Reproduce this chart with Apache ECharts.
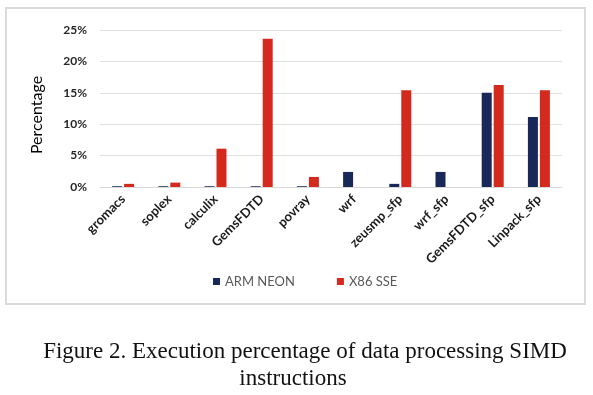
<!DOCTYPE html>
<html><head><meta charset="utf-8">
<script src="https://cdn.jsdelivr.net/npm/echarts@6/dist/echarts.min.js"></script>
<style>html,body{margin:0;padding:0;background:#fff}#c{width:593px;height:395px}</style>
</head><body><div id="c"></div>
<script>
const categories = ['gromacs','soplex','calculix','GemsFDTD','povray','wrf','zeusmp_sfp','wrf_sfp','GemsFDTD_sfp','Linpack_sfp'];
const armNeon = [0.12,0.12,0.12,0.12,0.12,2.4,0.5,2.4,15.0,11.15];
const x86Sse = [0.5,0.7,6.1,23.6,1.6,0,15.4,0,16.25,15.4];
const seriesNames = ['ARM NEON','X86 SSE'];
const yTicks = {min:0, max:25, interval:5};
const yTitle = 'Percentage';
const captionLines = ['Figure 2. Execution percentage of data processing SIMD','instructions'];

const chart = echarts.init(document.getElementById('c'), null, {renderer:'canvas'});
chart.setOption({
  animation:false,
  backgroundColor:'#fff',
  grid:{left:100,right:31,top:30,bottom:208,containLabel:false},
  legend:{
    data:seriesNames, top:270, left:208, itemWidth:7, itemHeight:7, itemGap:42,
    icon:'rect', textStyle:{color:'#595959',fontSize:13,fontFamily:'Lato'}
  },
  xAxis:{
    type:'category', data:categories,
    axisLine:{lineStyle:{color:'#d9d9d9'}}, axisTick:{show:false},
    axisLabel:{rotate:45, interval:0, color:'#1a1a1a', fontWeight:'bold', fontSize:13, fontFamily:'Lato', margin:10}
  },
  yAxis:{
    type:'value', min:yTicks.min, max:yTicks.max, interval:yTicks.interval,
    axisLine:{show:false}, axisTick:{show:false},
    splitLine:{lineStyle:{color:'#e0e0e0'}},
    axisLabel:{formatter:'{value}%', color:'#262626', fontWeight:'bold', fontSize:12, fontFamily:'Lato', margin:13}
  },
  series:[
    {name:seriesNames[0], type:'bar', data:armNeon, barWidth:10, barGap:'20%', itemStyle:{color:'#172859'}},
    {name:seriesNames[1], type:'bar', data:x86Sse, barWidth:10, itemStyle:{color:'#d4291d'}}
  ],
  graphic:[
    {type:'rect', shape:{x:6,y:8,width:579,height:296}, style:{fill:'none',stroke:'#d9dcdc',lineWidth:2}, silent:true, z:-1},
    {type:'text', x:37, y:115, rotation:Math.PI/2, style:{text:yTitle, font:'16px Lato', fill:'#000', align:'center', verticalAlign:'middle'}},
    {type:'text', x:305, y:352, style:{text:captionLines[0], font:'23px "Liberation Serif"', fill:'#111', align:'center', verticalAlign:'middle'}},
    {type:'text', x:293, y:379, style:{text:captionLines[1], font:'23px "Liberation Serif"', fill:'#111', align:'center', verticalAlign:'middle'}}
  ]
});
</script></body></html>
